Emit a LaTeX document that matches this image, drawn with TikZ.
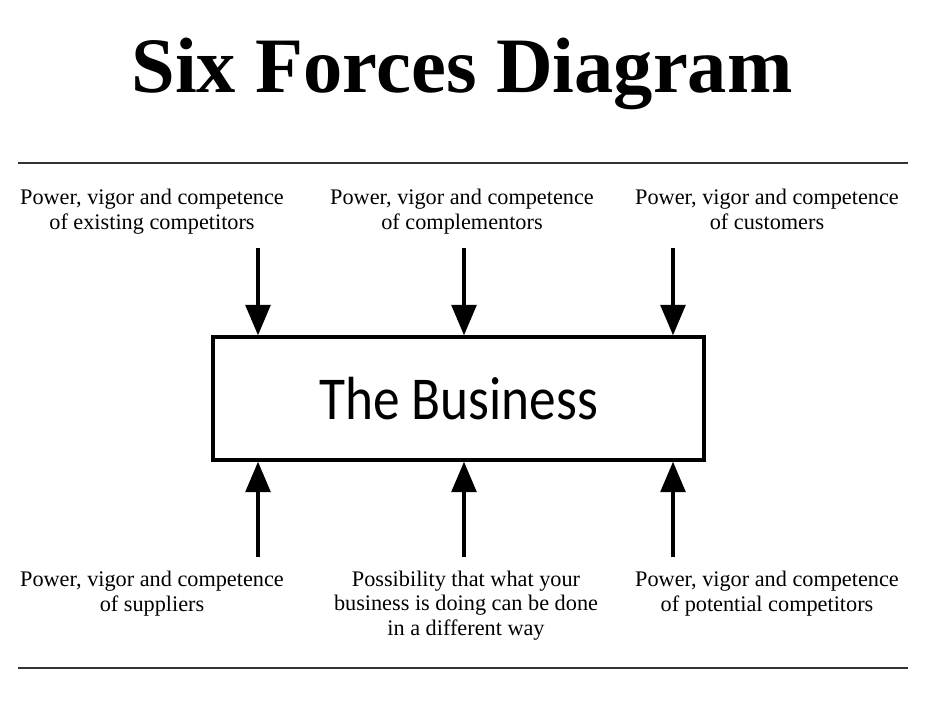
\documentclass[tikz,border=0pt]{standalone}
\usepackage{fontspec}
\setmainfont{Liberation Serif}
\newfontfamily\bizfont{Carlito}
\usetikzlibrary{arrows.meta, positioning}

\begin{document}
\begin{tikzpicture}[
  x=0.03cm, y=-0.03cm,
  force/.style={rectangle, align=center, inner sep=0pt, font=\fontsize{19}{21.3}\selectfont},
  biz/.style={rectangle, draw=black, line width=2.8pt, minimum width=491*0.03cm, minimum height=123*0.03cm, font=\bizfont\fontsize{52}{52}\selectfont},
  arr/.style={-{Triangle[length=26pt, width=21pt]}, line width=3.4pt},
  rule/.style={line width=1.6pt, black!80}
]
\useasboundingbox (0,0) rectangle (930,712);
\node[font=\bfseries\fontsize{67}{67}\selectfont] (title) at (462,74) {Six Forces Diagram};
\draw[rule] (18,163) coordinate (rtl) -- (908,163) coordinate (rtr);
\draw[rule] (18,668) coordinate (rbl) -- (908,668) coordinate (rbr);

\node[biz] (business) at (458.5,398.5) {\scalebox{0.875}[1]{The Business}};

% top forces
\node[force] (rivals) at (152,213) {Power, vigor and competence\\of existing competitors\strut};
\node[force] (complement) at (462,213) {Power, vigor and competence\\of complementors\strut};
\node[force] (customers) at (767,213) {Power, vigor and competence\\of customers\strut};

% bottom forces
\node[force] (suppliers) at (152,595) {Power, vigor and competence\\of suppliers\strut};
\node[force] (substitute) at (466,607) {Possibility that what your\\business is doing can be done\\in a different way\strut};
\node[force] (entrants) at (767,595) {Power, vigor and competence\\of potential competitors\strut};

\coordinate (t1) at (258,248);
\coordinate (t2) at (464,248);
\coordinate (t3) at (673,248);
\coordinate (b1) at (258,557);
\coordinate (b2) at (464,557);
\coordinate (b3) at (673,557);

\foreach \p in {t1,t2,t3}
  \draw[arr] (\p) -- (\p |- business.north);
\foreach \p in {b1,b2,b3}
  \draw[arr] (\p) -- (\p |- business.south);
\end{tikzpicture}
\end{document}
